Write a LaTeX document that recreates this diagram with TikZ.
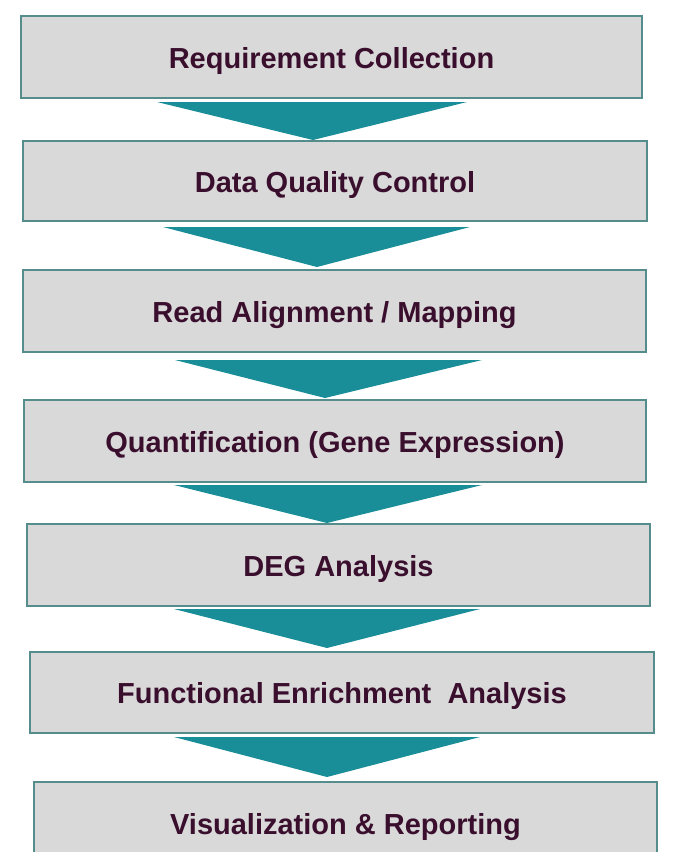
\documentclass[tikz,border=0pt]{standalone}
\usepackage{fontspec}
\setmainfont{Liberation Sans}
\definecolor{boxfill}{HTML}{D9D9D9}
\definecolor{boxline}{HTML}{558C8C}
\definecolor{boxglow}{HTML}{C8ECEC}
\definecolor{chevcol}{HTML}{1A8E98}
\definecolor{txtcol}{HTML}{3A0F2E}
\begin{document}
\begin{tikzpicture}[x=1pt,y=-1pt,
  stagetext/.style={font=\fontsize{29}{33}\selectfont\bfseries, text=txtcol, inner sep=0pt, anchor=base},
  chev/.style={fill=chevcol}]
\useasboundingbox (0,0) rectangle (680,852);
\fill[white] (0,0) rectangle (680,852);
\newcommand{\stagebox}[6]{%
  \fill[boxfill] (#1,#2) rectangle (#3,#4);
  \draw[boxglow, line width=2.6pt] (#1,#2) rectangle (#3,#4);
  \draw[boxline, line width=1.3pt] (#1,#2) rectangle (#3,#4);
  \node[stagetext] (#5) at ({(#1+#3)/2},{(#2+#4)/2+11}) {#6};}
\stagebox{21}{16}{642}{98}{s1}{Requirement Collection}
\stagebox{23}{141}{647}{221}{s2}{Data Quality Control}
\stagebox{23}{270}{646}{352}{s3}{Read Alignment / Mapping}
\stagebox{24}{400}{646}{482}{s4}{Quantification (Gene Expression)}
\stagebox{27}{524}{650}{606}{s5}{DEG Analysis}
\stagebox{30}{652}{654}{733}{s6}{Functional Enrichment\ \ Analysis}
\fill[boxfill] (34,782) rectangle (657,880);
\draw[boxglow, line width=2.6pt] (34,782) rectangle (657,880);
\draw[boxline, line width=1.3pt] (34,782) rectangle (657,880);
\node[stagetext] (s7) at (345.5,834) {Visualization \& Reporting};
% chevrons
\fill[chev] (157,102) -- (467,102) -- (313,140) -- cycle;
\fill[chev] (163,227) -- (470,227) -- (317,267) -- cycle;
\fill[chev] (175,360) -- (482,360) -- (325,398) -- cycle;
\fill[chev] (174,485) -- (482,485) -- (327,523) -- cycle;
\fill[chev] (174,609) -- (480,609) -- (327,648) -- cycle;
\fill[chev] (174,737) -- (480,737) -- (327,777) -- cycle;
\end{tikzpicture}
\end{document}
